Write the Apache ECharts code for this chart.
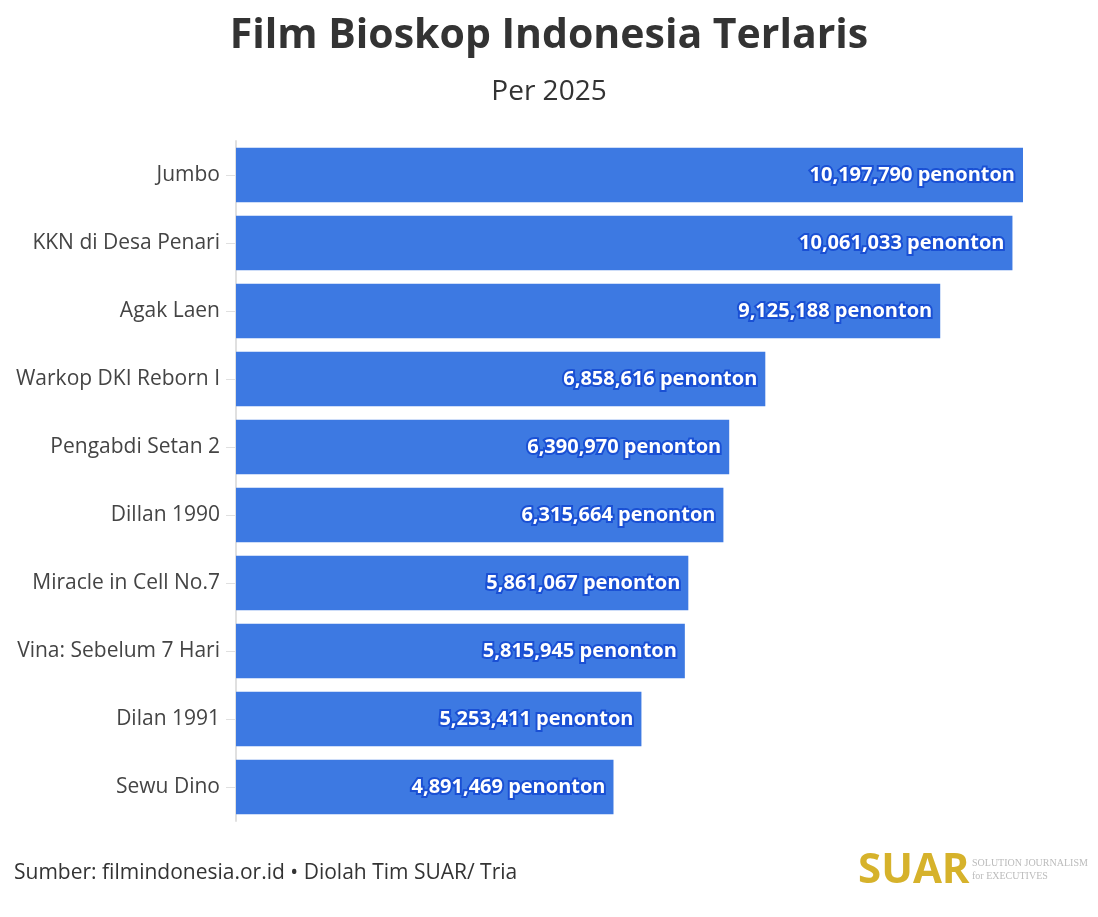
<!DOCTYPE html>
<html><head><meta charset="utf-8">
<script src="https://cdn.jsdelivr.net/npm/echarts@6/dist/echarts.min.js"></script>
<style>html,body{margin:0;padding:0;background:#fff}#c{width:1098px;height:917px}</style>
</head><body><div id="c"></div>
<script>
const categories = ["Jumbo","KKN di Desa Penari","Agak Laen","Warkop DKI Reborn I","Pengabdi Setan 2","Dillan 1990","Miracle in Cell No.7","Vina: Sebelum 7 Hari","Dilan 1991","Sewu Dino"];
const viewers = [10197790,10061033,9125188,6858616,6390970,6315664,5861067,5815945,5253411,4891469];
const titleText = "Film Bioskop Indonesia Terlaris";
const subtitleText = "Per 2025";
const sourceText = "Sumber: filmindonesia.or.id • Diolah Tim SUAR/ Tria";

const font = "'Open Sans','Noto Sans',sans-serif";
const chart = echarts.init(document.getElementById('c'), null, {renderer:'canvas'});
chart.setOption({
  backgroundColor:'#fff',
  animation:false,
  title:[
    {text:titleText,left:'center',top:11,textStyle:{fontFamily:font,fontSize:41,fontWeight:'bold',color:'#333'}},
    {text:subtitleText,left:'center',top:73,textStyle:{fontFamily:font,fontSize:28,fontWeight:'normal',color:'#333'}}
  ],
  grid:{left:236,right:75,top:141,bottom:96},
  xAxis:{type:'value',min:0,max:'dataMax',show:false},
  yAxis:{type:'category',inverse:true,data:categories,
    axisLine:{show:true,lineStyle:{color:'#e0e0e0',width:2}},
    axisTick:{show:true,alignWithLabel:true,length:10,lineStyle:{color:'#e0e0e0'}},
    axisLabel:{fontFamily:font,fontSize:21,color:'#444',margin:16}},
  series:[{type:'bar',data:viewers,barCategoryGap:'20%',
    itemStyle:{color:'#3d79e2'},
    label:{show:true,position:'insideRight',distance:8,
      formatter:p=>p.value.toLocaleString('en-US')+' penonton',
      fontFamily:font,fontSize:20,fontWeight:'bold',color:'#fff',
      textBorderColor:'#1a50d4',textBorderWidth:4}}],
  graphic:[
    {type:'text',left:14,top:863,style:{text:sourceText,font:"21px 'Open Sans','Noto Sans',sans-serif",fill:'#333'}},
    {type:'text',left:858,top:850,style:{text:'SUAR',font:"bold 42px 'Open Sans','Noto Sans',sans-serif",fill:'#d6b22b'}},
    {type:'text',left:972,top:858,style:{text:'SOLUTION JOURNALISM',font:"10px 'Liberation Serif',serif",fill:'#bbb'}},
    {type:'text',left:972,top:871,style:{text:'for EXECUTIVES',font:"10px 'Liberation Serif',serif",fill:'#bbb'}}
  ]
});
</script></body></html>
